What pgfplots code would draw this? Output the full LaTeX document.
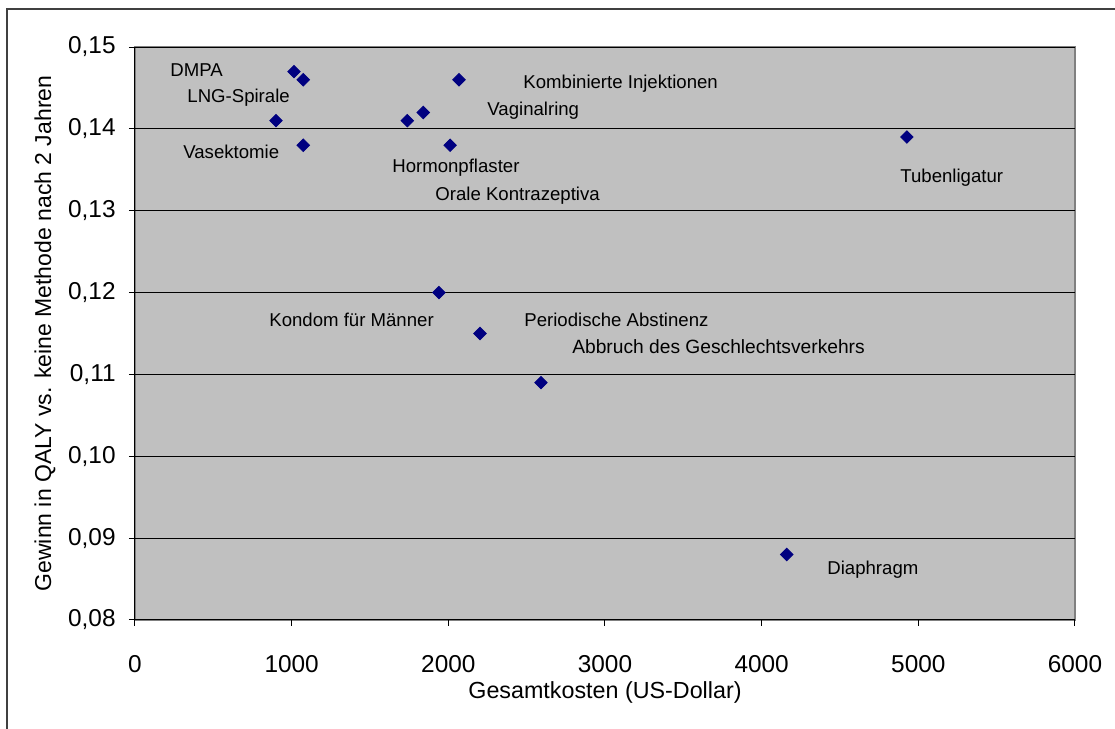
\documentclass[border=0pt]{standalone}
\usepackage{fontspec}
\setmainfont{Liberation Sans}
\usepackage{pgfplots}
\pgfplotsset{compat=1.18}
\definecolor{plotbg}{HTML}{C0C0C0}
\definecolor{navymark}{HTML}{000080}
\definecolor{bordergray}{HTML}{808080}
\begin{document}
\begin{tikzpicture}
\useasboundingbox (0,0) rectangle (557.5pt,364.5pt);
\draw[black!75, line width=1pt] (3.5pt,0) -- (3.5pt,360pt) -- (557.5pt,360pt);
\begin{axis}[
  at={(67.5pt,54.5pt)}, anchor=south west,
  scale only axis, width=470pt, height=286.5pt,
  xmin=0, xmax=6000, ymin=0.08, ymax=0.15,
  xtick={0,1000,2000,3000,4000,5000,6000},
  ytick={0.08,0.09,0.10,0.11,0.12,0.13,0.14,0.15},
  axis x line*=bottom, axis y line*=left,
  axis line style={black, line width=0.5pt, -},
  axis background/.style={fill=plotbg, draw=bordergray, line width=1pt},
  ymajorgrids, grid style={black, line width=0.5pt},
  tick align=outside, major tick length=3pt, tick style={black, line width=0.5pt},
  /pgf/number format/assume math mode=true,
  ticklabel style={font=\fontsize{12.2}{14}\selectfont, inner sep=0pt},
  xticklabel style={anchor=north, yshift=-14.5pt, /pgf/number format/1000 sep={}},
  yticklabel style={anchor=east, xshift=-6.5pt, /pgf/number format/.cd, fixed, fixed zerofill, precision=2, use comma},
  xlabel={Gesamtkosten (US-Dollar)},
  xlabel style={at={(axis description cs:0.5,-0.1257)}, anchor=center, font=\fontsize{11.65}{13}\selectfont},
  ylabel={Gewinn in QALY vs. keine Methode nach 2 Jahren},
  ylabel style={at={(axis description cs:-0.0957,0.5)}, anchor=center, font=\fontsize{11.5}{13}\selectfont},
  clip=false,
]
\addplot[only marks, mark=square*, mark size=2.2pt, mark options={rotate=45, fill=navymark, draw=navymark}] coordinates {
  (1015,0.147) (1074,0.146) (2068,0.146) (1840,0.142) (1738,0.141) (900,0.141)
  (1074,0.138) (2011,0.138) (4927,0.139) (1940,0.120) (2202,0.115) (2591,0.109)
  (4160,0.088)
};
\begin{scope}[every node/.style={anchor=base west, inner sep=0pt, font=\fontsize{9.3}{11}\selectfont}]
\node at (axis cs:223,0.14634) {DMPA};
\node at (axis cs:332,0.14328) {LNG-Spirale};
\node at (axis cs:2477,0.14499) {Kombinierte Injektionen};
\node at (axis cs:2247,0.14169) {Vaginalring};
\node at (axis cs:306,0.13644) {Vasektomie};
\node at (axis cs:1640,0.13461) {Hormonpflaster};
\node at (axis cs:1915,0.13131) {Orale Kontrazeptiva};
\node at (axis cs:4883,0.13339) {Tubenligatur};
\node at (axis cs:855,0.11580) {Kondom für Männer};
\node at (axis cs:2483,0.11580) {Periodische Abstinenz};
\node[font=\fontsize{9.6}{11}\selectfont] at (axis cs:2789,0.11250) {Abbruch des Geschlechtsverkehrs};
\node at (axis cs:4417,0.08550) {Diaphragm};
\end{scope}
\end{axis}
\end{tikzpicture}
\end{document}
